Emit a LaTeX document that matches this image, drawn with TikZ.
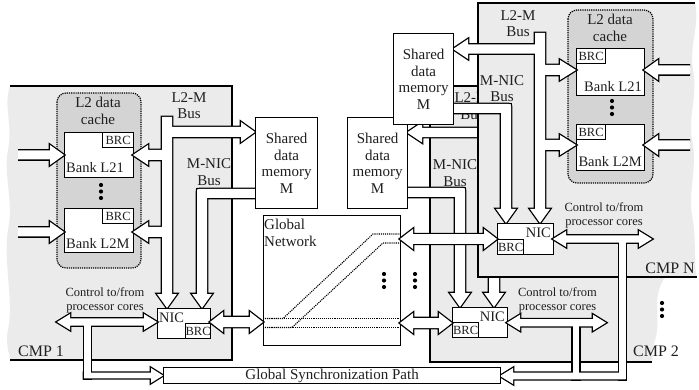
\documentclass[tikz,border=0pt]{standalone}
\usepackage{fontspec}
\setmainfont{Liberation Serif}
% hollow block arrows: right, left, down, double (start, tip, centre, half shaft, half head, head length)
\newcommand\ArR[6]{(#1,{#3-#4}) -- ({#2-#6},{#3-#4}) -- ({#2-#6},{#3-#5}) -- (#2,#3) -- ({#2-#6},{#3+#5}) -- ({#2-#6},{#3+#4}) -- (#1,{#3+#4}) -- cycle}
\newcommand\ArL[6]{(#1,{#3-#4}) -- ({#2+#6},{#3-#4}) -- ({#2+#6},{#3-#5}) -- (#2,#3) -- ({#2+#6},{#3+#5}) -- ({#2+#6},{#3+#4}) -- (#1,{#3+#4}) -- cycle}
\newcommand\ArD[6]{({#1-#4},#2) -- ({#1-#4},{#3-#6}) -- ({#1-#5},{#3-#6}) -- (#1,#3) -- ({#1+#5},{#3-#6}) -- ({#1+#4},{#3-#6}) -- ({#1+#4},#2) -- cycle}
\newcommand\ArLR[6]{(#1,#3) -- ({#1+#6},{#3-#5}) -- ({#1+#6},{#3-#4}) -- ({#2-#6},{#3-#4}) -- ({#2-#6},{#3-#5}) -- (#2,#3) -- ({#2-#6},{#3+#5}) -- ({#2-#6},{#3+#4}) -- ({#1+#6},{#3+#4}) -- ({#1+#6},{#3+#5}) -- cycle}
\newcommand\Rc[4]{(#1,#2) rectangle (#3,#4)}
% a group of pieces drawn as one white shape with a common outline
\newcommand\hollowgroup[1]{%
  \def\pc##1{\draw[line width=2.6pt] ##1;}#1%
  \def\pc##1{\fill[white] ##1;}#1}
\newcommand\vdotsat[2]{\foreach \dy in {0,6.5,13} \fill[black] (#1,{#2+\dy}) circle (2.1pt);}
\newcommand\boxat[7][]{\node[box, anchor=north west, minimum width={(#5-#3)*1pt}, minimum height={(#6-#4)*1pt}, #1] (#2) at (#3,#4) {#7};}
\begin{document}
\begin{tikzpicture}[x=1pt,y=-1pt,line join=miter,
  txt/.style={text=black!88, inner sep=0pt, font=\fontsize{15}{16.5}\selectfont, align=center},
  small/.style={text=black!88, inner sep=0pt, font=\fontsize{12.5}{14}\selectfont, align=center},
  banktxt/.style={text=black!88, inner sep=0pt, font=\fontsize{14.5}{16}\selectfont},
  cmptxt/.style={text=black!88, inner sep=0pt, font=\fontsize{16}{18}\selectfont},
  box/.style={draw, line width=1.3pt, fill=white, inner sep=0pt},
  edge/.style={line width=1.3pt},
  panel/.style={fill=black!8},
  cache/.style={fill=black!17, draw, densely dotted, line width=1.2pt, rounded corners=9pt},
  dotpath/.style={densely dotted, line width=1.1pt}]
\useasboundingbox (0,0) rectangle (699,390);

% ---------------- CMP 1 ----------------
\fill[panel] (232,86) -- (10,86) .. controls (3,105) and (13,125) .. (8,150) .. controls (3,175) and (14,200) .. (8,230) .. controls (3,262) and (14,300) .. (8,330) .. controls (5,345) and (10,355) .. (10,360) -- (232,360) -- cycle;
\draw[edge] (10,86) -- (232,86) -- (232,360) -- (10,360);
\draw[cache] (57,93) rectangle (141,268);
\node[txt] (c1lbl) at (98,111) {L2 data\\cache};
\boxat{b1a}{64}{132}{133}{177}{}
\boxat[small]{b1abrc}{102}{132}{133}{147}{BRC}
\node[banktxt, anchor=base west] (b1at) at (66,173) {Bank L21};
\boxat{b1b}{64}{208}{133}{252}{}
\boxat[small]{b1bbrc}{102}{208}{133}{223}{BRC}
\node[banktxt, anchor=base west] (b1bt) at (66,248) {Bank L2M};
\vdotsat{101}{185}
\begin{scope}
  \clip (18,0) rectangle (699,390);
  \hollowgroup{\pc{\ArR{10}{64}{155}{4.5}{10}{14}}\pc{\ArR{10}{64}{232}{4.5}{10}{14}}}
\end{scope}
\node[txt] (l2m1) at (189,105.5) {L2-M\\Bus};
\node[txt] (mnic1) at (209,172) {M-NIC\\Bus};
\node[small] (ctl1) at (105,300) {Control to/from\\processor cores};
\node[cmptxt, anchor=base west] (cmp1) at (18,356) {CMP 1};
\hollowgroup{%
  \pc{\ArD{167}{117}{308}{5}{10}{14}}%
  \pc{\ArR{167}{255}{132}{5}{10}{14}}%
  \pc{\ArL{167}{133}{155}{5}{10}{15}}%
  \pc{\ArL{167}{133}{232}{5}{10}{15}}%
  \pc{(255,189) -- (199.5,189) .. controls (197,189) .. (197,191.5) -- (197,294) -- (192,294) -- (202,308) -- (212,294) -- (207,294) -- (207,198) -- (255,198) -- cycle}}
\boxat{nic1}{157}{308}{210}{338}{}
\boxat[small]{nic1brc}{185}{323}{210}{338}{BRC}
\node[banktxt, anchor=base west] (nic1t) at (159,322.5) {NIC};
\boxat[txt]{mem1}{255}{117}{317}{208}{Shared\\data\\memory\\M}

% ---------------- Global network ----------------
\boxat{gn}{263}{215}{400}{345}{}
\node[txt, align=left, anchor=north west] (gnt) at (264,219) {Global\\Network};
\draw[dotpath] (263,318.5) -- (400,318.5);
\draw[dotpath] (263,327.5) -- (400,327.5);
\draw[dotpath] (263,318.5) -- (283,318.5) -- (373,234) -- (400,234);
\draw[dotpath] (263,327.5) -- (292,327.5) -- (383,243) -- (400,243);
\vdotsat{384}{274}
\vdotsat{415}{274}
\hollowgroup{\pc{\ArLR{210}{263}{322}{5}{10}{13}}}

% ---------------- CMP 2 ----------------
\fill[panel] (430,86) -- (665,86) -- (665,277) .. controls (650,300) and (662,320) .. (655,340) .. controls (652,350) and (653,358) .. (652,362) -- (430,362) -- cycle;
\draw[edge] (665,86) -- (430,86) -- (430,362) -- (652,362);
\node[txt] (l2m2) at (472,106) {L2-M\\Bus};
\node[txt] (mnic2) at (455,173) {M-NIC\\Bus};
\hollowgroup{%
  \pc{\ArD{494}{117}{307}{5}{10}{14}}%
  \pc{\ArL{494}{407}{132.5}{4.6}{10}{15}}%
  \pc{(407,188) -- (462.5,188) .. controls (465,188) .. (465,190.5) -- (465,293) -- (470,293) -- (460,307) -- (450,293) -- (455,293) -- (455,197) -- (407,197) -- cycle}}
\boxat{nic2}{452}{307}{507}{337}{}
\boxat[small]{nic2brc}{452}{322}{478}{337}{BRC}
\node[banktxt, anchor=base east] (nic2t) at (505,321.5) {NIC};
\boxat[txt]{mem2}{347}{117}{407}{208}{Shared\\data\\memory\\M}
\hollowgroup{\pc{\ArLR{400}{452}{323}{5}{10}{13}}}
\node[small] (ctl2) at (557.5,300) {Control to/from\\processor cores};
\node[cmptxt, anchor=base west] (cmp2) at (633,356) {CMP 2};
\vdotsat{662}{303}

% ---------------- CMP N ----------------
\fill[panel] (478,3) -- (695,3) .. controls (700,25) and (689,45) .. (693,70) .. controls (698,95) and (688,115) .. (692,140) .. controls (698,165) and (688,190) .. (692,215) .. controls (697,240) and (693,265) .. (697,277) -- (478,277) -- cycle;
\draw[edge] (695,3) -- (478,3) -- (478,277) -- (697,277);
\draw[cache] (568,10) rectangle (653,183);
\node[txt] (cnlbl) at (610,28) {L2 data\\cache};
\boxat{bna}{576}{48}{644}{95}{}
\boxat[small]{bnabrc}{576}{48}{605}{63}{BRC}
\node[banktxt, anchor=base east] (bnat) at (642,91.5) {Bank L21};
\boxat{bnb}{576}{124}{644}{170}{}
\boxat[small]{bnbbrc}{576}{124}{605}{139}{BRC}
\node[banktxt, anchor=base east] (bnbt) at (642,166.5) {Bank L2M};
\vdotsat{612}{101}
\begin{scope}
  \clip (0,0) rectangle (690,390);
  \hollowgroup{\pc{\ArL{700}{644}{70}{4.5}{10}{14}}\pc{\ArL{700}{644}{145}{4.5}{10}{14}}}
\end{scope}
\node[txt] (l2mn) at (518,23.5) {L2-M\\Bus};
\node[txt] (mnicn) at (502,88.5) {M-NIC\\Bus};
\hollowgroup{%
  \pc{\ArD{540}{33}{223}{5}{10}{14}}%
  \pc{\ArL{540}{453}{49}{4.6}{10}{15}}%
  \pc{\ArR{540}{576}{70}{5}{10}{16}}%
  \pc{\ArR{540}{576}{145}{5}{10}{16}}%
  \pc{(453,104) -- (508.5,104) .. controls (511,104) .. (511,106.5) -- (511,209) -- (516,209) -- (506,223) -- (496,209) -- (501,209) -- (501,113) -- (453,113) -- cycle}}
\boxat{nicn}{497}{223}{553}{254}{}
\boxat[small]{nicnbrc}{497}{239}{523}{254}{BRC}
\node[banktxt, anchor=base east] (nicnt) at (551,238) {NIC};
\boxat[txt]{memn}{393}{33}{453}{124}{Shared\\data\\memory\\M}
\hollowgroup{\pc{\ArLR{400}{497}{239}{4.8}{10}{13}}}
\node[small] (ctln) at (604,215) {Control to/from\\processor cores};
\node[cmptxt, anchor=base east] (cmpn) at (695,273) {CMP N};

% ---------------- control paths and synchronization ----------------
\hollowgroup{%
  \pc{\ArLR{57}{157}{322}{3.6}{8}{13}}%
  \pc{\Rc{84}{322}{90.7}{378.3}}%
  \pc{\ArR{84}{163}{375.5}{2.8}{7.5}{12}}%
  \pc{\ArLR{507}{606}{322.7}{3.6}{8}{13}}%
  \pc{\ArLR{553}{652}{239}{3.6}{8}{13}}%
  \pc{\Rc{572.7}{323}{579.3}{379.3}}%
  \pc{\Rc{619}{239}{625.5}{379.3}}%
  \pc{\ArL{625.5}{500}{376}{3.3}{8}{13}}}
\boxat[txt]{sync}{163}{367}{500}{383}{Global Synchronization Path}
\end{tikzpicture}
\end{document}
